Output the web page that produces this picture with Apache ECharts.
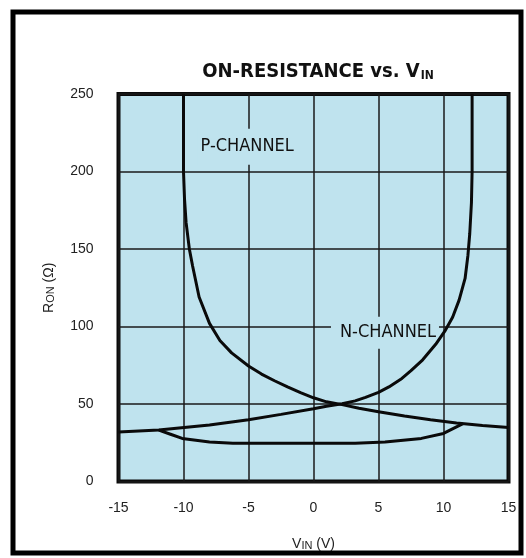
<!DOCTYPE html>
<html>
<head>
<meta charset="utf-8">
<script src="https://cdn.jsdelivr.net/npm/echarts@6/dist/echarts.min.js"></script>
<style>
html,body{margin:0;padding:0;background:#fff;}
#chart{width:526px;height:558px;}
</style>
</head>
<body>
<div id="chart"></div>
<script>
// ---- data ----
const xTicks = [-15, -10, -5, 0, 5, 10, 15];
const yTicks = [0, 50, 100, 150, 200, 250];

// P-channel on-resistance [V_IN, R_ON]
const pChannel = [
  [-10, 250], [-10, 200], [-9.92, 182], [-9.8, 167], [-9.55, 150], [-9.3, 139],
  [-8.8, 119], [-8, 102], [-7.2, 91], [-6.3, 83], [-5, 74.5], [-4, 69.3],
  [-3, 65], [-2, 61], [-1, 57.3], [0, 54], [1, 51.4], [2.2, 49.6], [3.5, 47.3],
  [5, 45], [7, 42.2], [9, 39.9], [11, 37.8], [13, 36.1], [15, 34.8]
];
// N-channel on-resistance [V_IN, R_ON]
const nChannel = [
  [12.2, 250], [12.2, 200], [12.15, 180], [12.02, 160], [11.88, 146], [11.66, 131],
  [11.2, 117], [10.7, 106], [10.1, 97], [9.4, 88.5], [8.4, 78.5], [7.5, 71.5],
  [6.8, 66.5], [5.8, 61], [5, 57.5], [4, 54.3], [3.2, 52], [2.2, 50.2],
  [1, 48.5], [0, 47], [-2.5, 43.3], [-5, 39.8], [-8, 36.5], [-11.9, 33.2], [-15, 32]
];
// Combined (parallel) on-resistance [V_IN, R_ON]
const combined = [
  [-11.9, 33.2], [-11, 30.5], [-10.1, 27.8], [-8, 25.5], [-6.2, 24.6],
  [0, 24.6], [3.2, 24.6], [5.5, 25.5], [8.3, 27.8], [10, 31], [11.5, 37.3]
];

const titleText = 'ON-RESISTANCE vs. V';
const titleSub = 'IN';
const pLabel = 'P-CHANNEL';
const nLabel = 'N-CHANNEL';
const pLabelAt = [-5.1, 216];
const nLabelAt = [5.5, 96];

// ---- chart ----
const plotBg = '#bfe3ee';
const narrow = "'Liberation Sans Narrow', 'DejaVu Sans Condensed', sans-serif";
const sans = "'Liberation Sans', Arial, sans-serif";

const chart = echarts.init(document.getElementById('chart'), null, {renderer: 'canvas'});

const lineStyle = {color: '#0a0a0a', width: 3};
function curve(name, data) {
  return {
    name: name, type: 'line', data: data, showSymbol: false, symbol: 'none',
    smooth: false, lineStyle: lineStyle, z: 5, silent: true, animation: false
  };
}

chart.setOption({
  animation: false,
  backgroundColor: '#ffffff',
  title: {
    text: '{m|' + titleText + '}{s|' + titleSub + '}',
    left: 313, top: 57, textAlign: 'center',
    textStyle: {
      rich: {
        m: {fontFamily: narrow, fontWeight: 'bold', fontSize: 20, color: '#111'},
        s: {fontFamily: narrow, fontWeight: 'bold', fontSize: 12, color: '#111', verticalAlign: 'bottom', padding: [6, 0, 0, 1]}
      }
    }
  },
  grid: {
    left: 118.5, top: 94, width: 390, height: 387.5,
    show: true, backgroundColor: plotBg, borderColor: '#0a0a0a', borderWidth: 4
  },
  xAxis: {
    type: 'value', min: xTicks[0], max: xTicks[xTicks.length - 1], interval: 5,
    axisLine: {show: false}, axisTick: {show: false},
    splitLine: {show: true, lineStyle: {color: '#1a1a1a', width: 1.5}},
    axisLabel: {
      margin: 20, color: '#222', fontFamily: sans, fontSize: 14,
      formatter: function (v) { return v < 0 ? '-' + Math.abs(v) : String(v); }
    },
    name: '{m|V}{s|IN}{m| (V)}', nameLocation: 'middle', nameGap: 56,
    nameTextStyle: {
      rich: {
        m: {fontFamily: sans, fontSize: 14, color: '#222'},
        s: {fontFamily: sans, fontSize: 11, color: '#222', padding: [3, 0, 0, 0]}
      }
    }
  },
  yAxis: {
    type: 'value', min: yTicks[0], max: yTicks[yTicks.length - 1], interval: 50,
    axisLine: {show: false}, axisTick: {show: false},
    splitLine: {show: true, lineStyle: {color: '#1a1a1a', width: 1.5}},
    axisLabel: {margin: 25, color: '#222', fontFamily: sans, fontSize: 14},
    name: '{m|R}{s|ON}{m| (Ω)}', nameLocation: 'middle', nameGap: 62, nameRotate: 90,
    nameTextStyle: {
      rich: {
        m: {fontFamily: sans, fontSize: 14, color: '#222'},
        s: {fontFamily: sans, fontSize: 11, color: '#222', padding: [3, 0, 0, 0]}
      }
    }
  },
  graphic: [{
    type: 'rect', shape: {x: 13, y: 12, width: 508, height: 541},
    style: {fill: 'none', stroke: '#000', lineWidth: 5}, silent: true, z: 10
  }],
  series: [
    Object.assign(curve('P-channel', pChannel), {
      markPoint: {
        symbol: 'rect', symbolSize: 0, silent: true, animation: false,
        label: {
          show: true, formatter: pLabel, position: 'inside', color: '#111',
          fontFamily: narrow, fontSize: 18, backgroundColor: plotBg, padding: [9, 3, 9, 3]
        },
        data: [{coord: pLabelAt}]
      }
    }),
    Object.assign(curve('N-channel', nChannel), {
      markPoint: {
        symbol: 'rect', symbolSize: 0, silent: true, animation: false,
        label: {
          show: true, formatter: nLabel, position: 'inside', color: '#111',
          fontFamily: narrow, fontSize: 18, backgroundColor: plotBg, padding: [7, 3, 7, 9]
        },
        data: [{coord: nLabelAt}]
      }
    }),
    curve('Combined', combined)
  ]
});
</script>
</body>
</html>
